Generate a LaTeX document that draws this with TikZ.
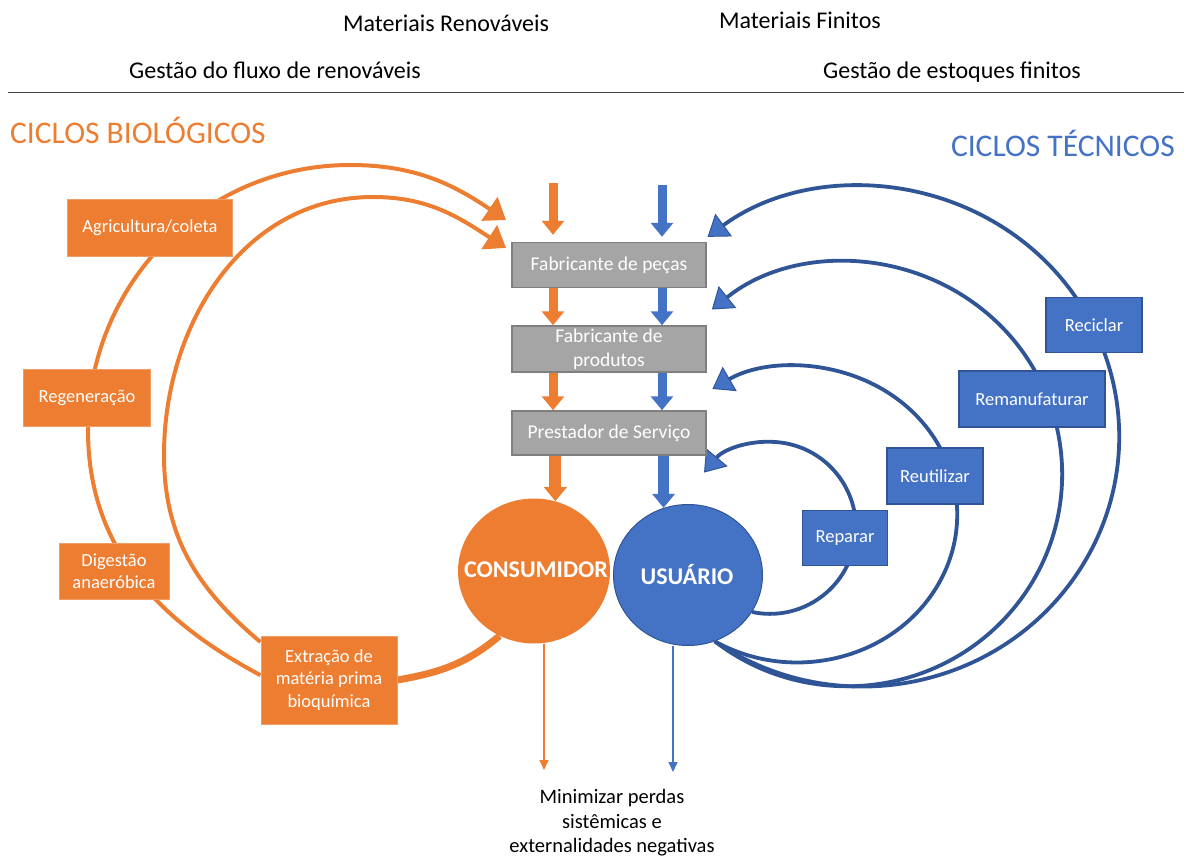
\documentclass[tikz,border=0pt]{standalone}
\usepackage{fontspec}
\setmainfont{Carlito}
\usetikzlibrary{arrows.meta,shapes.geometric}
\definecolor{bioorange}{HTML}{ED7D31}
\definecolor{tecblue}{HTML}{4472C4}
\definecolor{tecdark}{HTML}{2F5597}
\definecolor{fabgray}{HTML}{A5A5A5}
\definecolor{fabedge}{HTML}{7F7F7F}
\newcommand{\fsz}[2]{\fontsize{#1}{#2}\selectfont}
\pgfdeclarelayer{back}
\pgfsetlayers{back,main}

\begin{document}
\begin{tikzpicture}[x=1pt,y=1pt,
    headtxt/.style={inner sep=0,font=\fsz{24}{28}},
    biobox/.style={rectangle,fill=bioorange,draw=bioorange!75!white,line width=1,text=white,align=center,inner sep=0,font=\fsz{18.5}{22.5}},
    tecbox/.style={rectangle,fill=tecblue,draw=tecdark,line width=1.2,text=white,align=center,inner sep=0,font=\fsz{18.5}{22.5}},
    fabbox/.style={rectangle,fill=fabgray,draw=fabedge,line width=1.5,text=white,align=center,inner sep=0,font=\fsz{19.5}{24},minimum width=194,minimum height=45},
    agent/.style={ellipse,inner sep=0},
    agenttxt/.style={inner sep=0,text=white,font=\bfseries\fsz{24}{28}},
    bioarc/.style={draw=bioorange,line width=4,-{Triangle[width=28pt,length=20pt]}},
    tecarc/.style={draw=tecdark,line width=3.8,-{Triangle[width=28pt,length=20pt,fill=tecblue,line width=1pt]}},
    bioflow/.style={draw=bioorange,line width=9,-{Triangle[width=22pt,length=14pt]}},
    tecflow/.style={draw=tecblue,line width=9,-{Triangle[width=22pt,length=14pt]}},
    lossarrow/.style={line width=1.5,-{Triangle[width=9pt,length=10pt]}}]
    \useasboundingbox (0,0) rectangle (1184,-859);

    \node[headtxt,anchor=base] (renov) at (446,-32) {Materiais Renováveis};
    \node[headtxt,anchor=base] (finit) at (800,-28.5) {Materiais Finitos};
    \node[headtxt,anchor=base] (gestren) at (275,-78.5) {Gestão do fluxo de renováveis};
    \node[headtxt,anchor=base] (gestfin) at (952,-78.5) {Gestão de estoques finitos};
    \draw[line width=1,draw=black!75] (8,-93) -- (1184,-93);
    \node[headtxt,anchor=base west,text=bioorange,font=\fsz{31.5}{36}] (biotit) at (10,-143) {CICLOS BIOLÓGICOS};
    \node[headtxt,anchor=base east,text=tecblue,font=\fsz{31.5}{36}] (tectit) at (1175,-156) {CICLOS TÉCNICOS};

    \node[biobox,minimum width=165,minimum height=57] (agri) at (150,-228) {Agricultura/coleta};
    \node[biobox,minimum width=127,minimum height=57] (regen) at (87,-398) {Regeneração};
    \node[biobox,minimum width=110,minimum height=56] (dig) at (114,-571) {Digestão\\anaeróbica};
    \node[biobox,minimum width=136,minimum height=88] (extr) at (329,-680) {Extração de\\matéria prima\\bioquímica};

    \node[fabbox] (fabpec) at (609,-265) {Fabricante de peças};
    \node[fabbox,minimum height=46] (fabprod) at (609,-349) {Fabricante de\\produtos};
    \node[fabbox,minimum height=44] (prest) at (609,-433) {Prestador de Serviço};

    \node[agent,fill=bioorange,minimum width=152,minimum height=145] (cons) at (534,-571) {};
    \node[agenttxt,anchor=base] (constxt) at (536,-577) {CONSUMIDOR};
    \node[agent,fill=tecblue,draw=tecdark,line width=1,minimum width=149,minimum height=141] (usr) at (688,-575) {};
    \node[agenttxt,anchor=base] (usrtxt) at (687,-584) {USUÁRIO};

    \node[tecbox,minimum width=96,minimum height=55] (recic) at (1094,-325) {Reciclar};
    \node[tecbox,minimum width=146,minimum height=56] (reman) at (1032,-399) {Remanufaturar};
    \node[tecbox,minimum width=96,minimum height=56] (reut) at (935,-476) {Reutilizar};
    \node[tecbox,minimum width=85,minimum height=55] (repar) at (845,-538) {Reparar};

    \coordinate (biotipA) at (506,-220);
    \coordinate (biotipB) at (506,-248);
    \begin{pgfonlayer}{back}
        \draw[bioarc] (extr.176) to[out=152,in=-90] (88,-430) to[out=90,in=180] (350,-165) to[out=0,in=146] (biotipA);
        \draw[bioarc] (extr.151) to[out=140,in=-90] (164,-455) to[out=90,in=180] (373,-197) to[out=0,in=147] (biotipB);
        \draw[bioarc,-,line width=7] (cons.-118) to[out=-140,in=10] (extr.east);
        \draw[tecarc] (usr.-30) arc[start angle=-102,end angle=140,radius=86];
        \draw[tecarc] (usr.-68) arc[start angle=-121,end angle=122,x radius=160,y radius=148];
        \draw[tecarc] (usr.-68) arc[start angle=-128,end angle=129,x radius=215,y radius=212];
        \draw[tecarc] (usr.-68) arc[start angle=-125,end angle=127,x radius=257,y radius=250];
    \end{pgfonlayer}

    \coordinate (bioin) at (553,-183);
    \coordinate (tecin) at (662,-185);
    \draw[bioflow,shorten >=7pt] (bioin) -- (bioin |- fabpec.north);
    \draw[tecflow,shorten >=5pt] (tecin) -- (tecin |- fabpec.north);
    \draw[bioflow] (fabpec.south -| bioin) -- (fabprod.north -| bioin);
    \draw[tecflow] (fabpec.south -| tecin) -- (fabprod.north -| tecin);
    \draw[bioflow] (fabprod.south -| bioin) -- (prest.north -| bioin);
    \draw[tecflow] (fabprod.south -| tecin) -- (prest.north -| tecin);
    \draw[bioflow,line width=12] (prest.south -| cons.73) -- (cons.73);
    \draw[tecflow,line width=11] (prest.south -| usr.110) -- (usr.110);

    \coordinate (bioout) at (544,-770);
    \coordinate (tecout) at (673,-772);
    \draw[lossarrow,draw=bioorange] (cons.south -| bioout) -- (bioout);
    \draw[lossarrow,draw=tecblue] (usr.south -| tecout) -- (tecout);
    \node[font=\fsz{20.5}{24.5},align=center,inner sep=0] (perdas) at (612,-823) {Minimizar perdas\\sistêmicas e\\externalidades negativas};
\end{tikzpicture}
\end{document}
